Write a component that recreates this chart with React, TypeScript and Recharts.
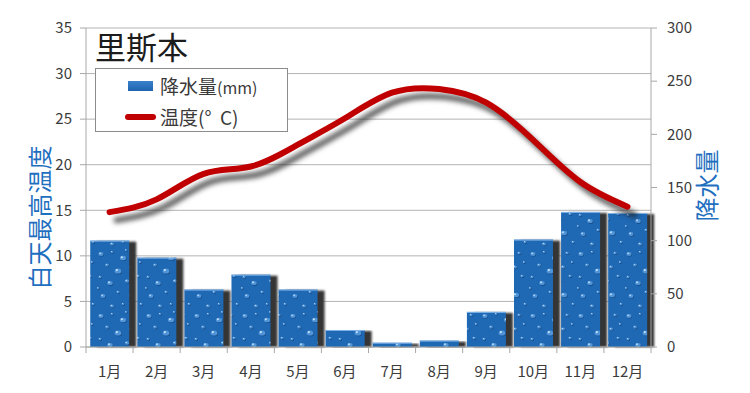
// @ts-nocheck
import React from "react";
import {
  ComposedChart,
  Bar,
  Line,
  XAxis,
  YAxis,
  CartesianGrid,
  Legend,
} from "recharts";

const months = ["1月", "2月", "3月", "4月", "5月", "6月", "7月", "8月", "9月", "10月", "11月", "12月"];
const rainfall = [100, 84, 54, 68, 54, 16, 4, 6, 33, 101, 127, 126];
const maxTemp = [14.8, 16.2, 19.0, 19.8, 22.2, 25.1, 27.9, 28.3, 26.8, 22.7, 18.1, 15.4];
const tempTicks = [0, 5, 10, 15, 20, 25, 30, 35];
const rainTicks = [0, 50, 100, 150, 200, 250, 300];

const data = months.map((m, i) => ({ month: m, rain: rainfall[i], temp: maxTemp[i] }));

const FONT = "'Noto Sans CJK JP', 'Noto Sans', sans-serif";
const AXIS_GRAY = "#a8a8a8";
const TICK_COLOR = "#3c3c3c";
const LABEL_BLUE = "#1f6fc0";

// water drops drawn inside the bar texture pattern: cx, cy, rx, ry
const drops = [
  [5, 6, 2.6, 1.9], [16, 4, 1.3, 1.1], [27, 10, 3.2, 2.3], [39, 5, 1.6, 1.3], [11, 17, 1.8, 1.5],
  [22, 23, 3.4, 2.6], [35, 19, 1.9, 1.5], [44, 14, 1.2, 1], [4, 29, 1.5, 1.3], [14, 35, 2.8, 2.1],
  [31, 33, 2.1, 1.7], [42, 28, 1.6, 1.3], [22, 44, 1.6, 1.3], [7, 48, 2.5, 1.9], [36, 47, 3, 2.3],
  [27, 56, 1.4, 1.1], [16, 58, 2, 1.6], [45, 56, 1.5, 1.2], [2, 40, 1.1, 0.9], [30, 2, 1.1, 0.9],
];

function RainBar(props) {
  const { x, y, width, height } = props;
  if (!height || height <= 0) return null;
  return (
    <g>
      <rect x={x + 7} y={y + 1} width={width} height={height - 1} fill="#363636" filter="url(#barBlur)" />
      <rect x={x} y={y} width={width} height={height} fill="url(#drops)" />
      <line x1={x} x2={x + width} y1={y + 0.5} y2={y + 0.5} stroke="#7fb2e6" strokeWidth={1} />
    </g>
  );
}

function MonthTick(props) {
  const { x, y, payload, index, width, visibleTicksCount } = props;
  const half = width / visibleTicksCount / 2;
  return (
    <g>
      <line x1={x - half} x2={x - half} y1={y} y2={y + 6} stroke={AXIS_GRAY} />
      {index === visibleTicksCount - 1 && (
        <line x1={x + half} x2={x + half} y1={y} y2={y + 6} stroke={AXIS_GRAY} />
      )}
      <text x={x} y={y + 23} textAnchor="middle" dominantBaseline="central" fontSize={15} fill={TICK_COLOR} fontFamily={FONT}>
        {payload.value}
      </text>
    </g>
  );
}

function LegendBox({ payload }) {
  const items = [...(payload || [])].sort((a, b) => (a.type === "line" ? 1 : 0) - (b.type === "line" ? 1 : 0));
  return (
    <div
      style={{
        width: 193,
        height: 64,
        border: "1px solid #8c8c8c",
        background: "#fff",
        fontFamily: FONT,
        fontSize: 19,
        color: "#3a3a3a",
        boxSizing: "border-box",
        paddingTop: 1,
      }}
    >
      {items.map((entry) => (
        <div key={entry.value} style={{ display: "flex", alignItems: "center", height: 31, paddingLeft: 29 }}>
          {entry.type === "line" ? (
            <span style={{ display: "inline-block", width: 31, height: 6, borderRadius: 3, background: "#c00000" }} />
          ) : (
            <span
              style={{
                display: "inline-block",
                width: 25,
                height: 10,
                marginLeft: 3,
                marginRight: 3,
                background: "linear-gradient(#3b82cc, #1d63ad)",
              }}
            />
          )}
          <span style={{ marginLeft: 4, whiteSpace: "pre" }}>
            {entry.type === "line" ? (
              entry.value
            ) : (
              <>
                降水量<span style={{ fontSize: 16 }}>(mm)</span>
              </>
            )}
          </span>
        </div>
      ))}
    </div>
  );
}

export default function App() {
  return (
    <div style={{ position: "absolute", left: 0, top: 0, width: 750, height: 393, background: "#fff" }}>
      <style>{`.recharts-line-curve { filter: drop-shadow(7px 8px 2.5px rgba(30,30,30,0.7)); }`}</style>
      <ComposedChart
        width={750}
        height={393}
        data={data}
        margin={{ top: 28, right: 0, left: 0, bottom: 0 }}
        barCategoryGap="9%"
      >
        <defs>
          <filter id="barBlur" x="-20%" y="-5%" width="140%" height="110%">
            <feGaussianBlur stdDeviation="1" />
          </filter>
          <pattern id="drops" patternUnits="userSpaceOnUse" width="48" height="62">
            <rect width="48" height="62" fill="#1f68b3" />
            {drops.map(([cx, cy, rx, ry], i) => (
              <g key={i}>
                <ellipse cx={cx + 0.6} cy={cy + 0.7} rx={rx} ry={ry} fill="#133f72" opacity={0.75} />
                <ellipse cx={cx} cy={cy} rx={rx} ry={ry} fill="#4f95da" />
                <circle cx={cx - rx * 0.35} cy={cy - ry * 0.35} r={Math.max(0.5, rx * 0.32)} fill="#d6e9fb" opacity={0.9} />
              </g>
            ))}
          </pattern>
        </defs>
        <CartesianGrid yAxisId="left" vertical={false} stroke="#b4b4b4" />
        <XAxis
          dataKey="month"
          height={46}
          tickLine={false}
          tickSize={0}
          tickMargin={0}
          interval={0}
          axisLine={{ stroke: AXIS_GRAY }}
          tick={<MonthTick />}
        />
        <YAxis
          yAxisId="left"
          width={86}
          domain={[0, 35]}
          ticks={tempTicks}
          interval={0}
          tickSize={6}
          tickMargin={8}
          axisLine={{ stroke: AXIS_GRAY }}
          tickLine={{ stroke: AXIS_GRAY }}
          tick={{ fontSize: 15, fill: TICK_COLOR, fontFamily: FONT }}
          label={{
            value: "白天最高温度",
            content: ({ viewBox }) => {
              const cx = viewBox.x + 38;
              const cy = viewBox.y + viewBox.height / 2 + 30;
              return (
                <text x={cx} y={cy} transform={`rotate(-90 ${cx} ${cy})`} textAnchor="middle" dominantBaseline="central" fontSize={24} fill={LABEL_BLUE} fontFamily={FONT}>
                  白天最高温度
                </text>
              );
            },
          }}
        />
        <YAxis
          yAxisId="right"
          orientation="right"
          width={99}
          domain={[0, 300]}
          ticks={rainTicks}
          interval={0}
          tickSize={6}
          tickMargin={10}
          axisLine={{ stroke: AXIS_GRAY }}
          tickLine={{ stroke: AXIS_GRAY }}
          tick={{ fontSize: 15, fill: TICK_COLOR, fontFamily: FONT, textAnchor: "start" }}
          label={{
            value: "降水量",
            content: ({ viewBox }) => {
              const cx = viewBox.x + 54;
              const cy = viewBox.y + viewBox.height / 2 - 2;
              return (
                <text x={cx} y={cy} transform={`rotate(-90 ${cx} ${cy})`} textAnchor="middle" dominantBaseline="central" fontSize={24} fill={LABEL_BLUE} fontFamily={FONT}>
                  降水量
                </text>
              );
            },
          }}
        />
        <Legend
          layout="vertical"
          align="center"
          verticalAlign="middle"
          content={<LegendBox />}
          wrapperStyle={{ left: 95, top: 68, width: 193, height: 64 }}
        />
        <Bar
          yAxisId="right"
          dataKey="rain"
          name="降水量(mm)"
          fill="#1f68b3"
          shape={<RainBar />}
          legendType="rect"
          isAnimationActive={false}
        />
        <Line
          yAxisId="left"
          type="natural"
          dataKey="temp"
          name="温度(°  C)"
          stroke="#c00000"
          strokeWidth={6}
          strokeLinecap="round"
          dot={false}
          activeDot={false}
          legendType="line"
          isAnimationActive={false}
        />
      </ComposedChart>
      <div
        style={{
          position: "absolute",
          left: 95,
          top: 26,
          fontFamily: FONT,
          fontSize: 31,
          lineHeight: "40px",
          color: "#1c1c1c",
          pointerEvents: "none",
        }}
      >
        里斯本
      </div>
    </div>
  );
}
